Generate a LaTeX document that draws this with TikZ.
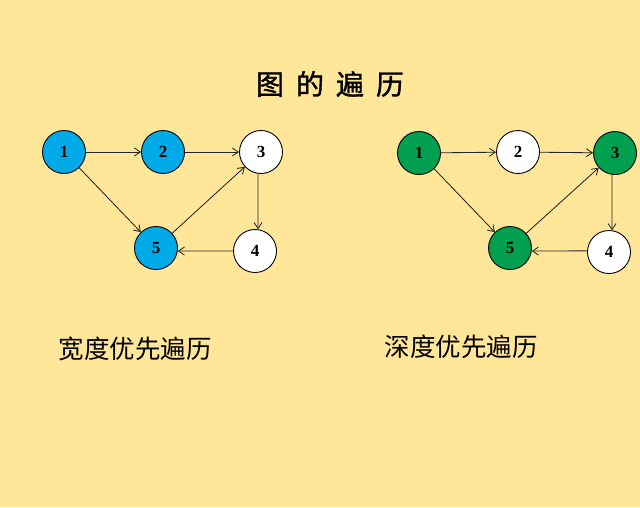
\documentclass[tikz,border=0pt]{standalone}
\usepackage{fontspec}
\setmainfont{Liberation Serif}
\newfontfamily\cjk{Noto Sans CJK SC}
\newfontfamily\cjkt[FakeBold=1.2]{Noto Sans CJK SC}
\usetikzlibrary{arrows.meta}
\definecolor{bgyellow}{RGB}{255,230,153}
\definecolor{nodeblue}{RGB}{0,170,232}
\definecolor{nodegreen}{RGB}{0,160,80}
\begin{document}
\begin{tikzpicture}[x=1pt,y=-1pt,
  vert/.style={circle,draw=black,line width=0.9pt,minimum size=43pt,inner sep=0pt,font=\fontsize{17}{17}\selectfont\bfseries,fill=white},
  bfs/.style={vert,fill=nodeblue},
  dfs/.style={vert,fill=nodegreen},
  edge/.style={draw=black!85,line width=0.85pt,-{Straight Barb[length=6pt,width=8pt]}},
  title/.style={font=\cjkt\fontsize{28}{28}\selectfont},
  caption/.style={font=\cjk\fontsize{25.5}{25.5}\selectfont,anchor=west}]
\fill[bgyellow] (0,0) rectangle (640,507);
\useasboundingbox (0,0) rectangle (640,507);
\node[title] (t) at (330,84) {图\hspace{12pt}的\hspace{12pt}遍\hspace{12pt}历};
% left graph
\node[bfs]  (a1) at (64,152) {1};
\node[bfs]  (a2) at (163,152) {2};
\node[vert] (a3) at (261,152) {3};
\node[vert] (a4) at (255,251) {4};
\node[bfs]  (a5) at (156,248) {5};
\draw[edge] (a1) -- (a2);
\draw[edge] (a2) -- (a3);
\draw[edge] (a3.-98) -- (a4.82);
\draw[edge] (a4.180) -- (a5.-8);
\draw[edge] (a1) -- (a5);
\draw[edge] (a5) -- (a3);
% right graph
\node[dfs]  (b1) at (419,153) {1};
\node[vert] (b2) at (518,152) {2};
\node[dfs]  (b3) at (615,153) {3};
\node[vert] (b4) at (609,252) {4};
\node[dfs]  (b5) at (510,248) {5};
\draw[edge] (b1) -- (b2);
\draw[edge] (b2) -- (b3);
\draw[edge] (b3.-98) -- (b4.82);
\draw[edge] (b4.177) -- (b5.-8);
\draw[edge] (b1) -- (b5);
\draw[edge] (b5) -- (b3);
% captions
\node[caption] (c1) at (55,349) {宽度优先遍历};
\node[caption] (c2) at (381,347) {深度优先遍历};
\end{tikzpicture}
\end{document}
